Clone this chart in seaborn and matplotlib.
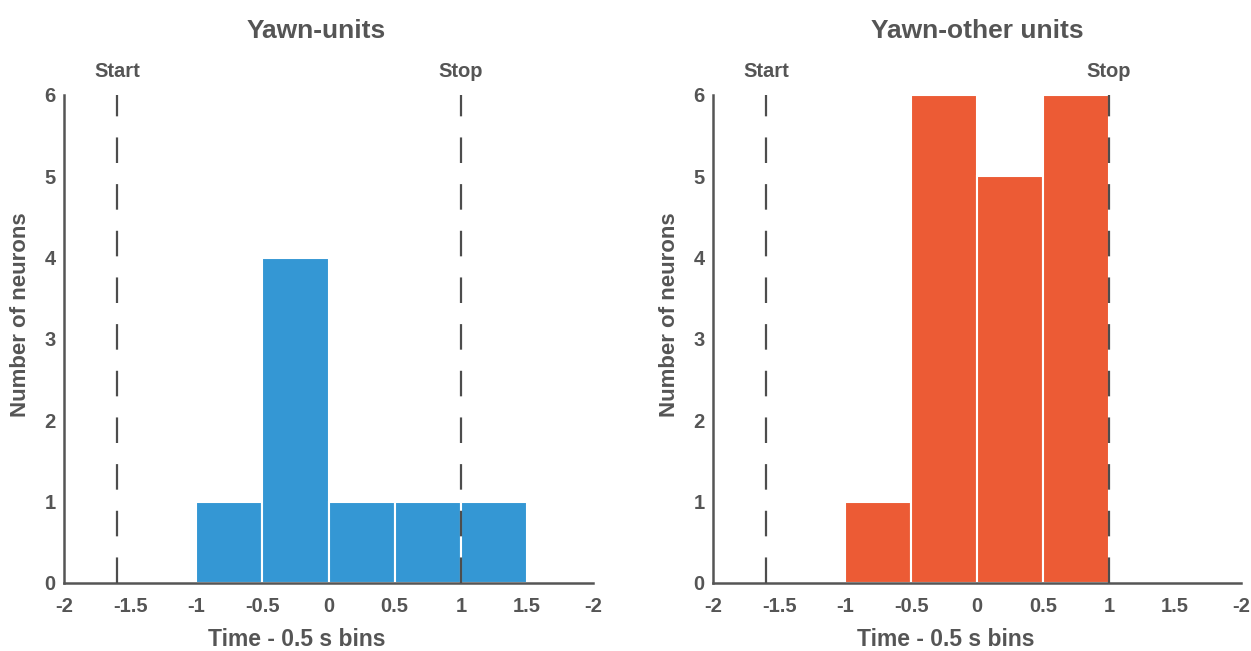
import numpy as np
import pandas as pd
import matplotlib
matplotlib.use("Agg")
import matplotlib.pyplot as plt
import seaborn as sns

# Histogram bins (0.5 s) and neuron counts per bin
bin_edges = [-1.0, -0.5, 0.0, 0.5, 1.0, 1.5]
yawn_units_counts = [1, 4, 1, 1, 1]
yawn_other_counts = [1, 6, 5, 6, 0]

# Event markers
start_time = -1.6
stop_time = 1.0

x_ticks = [-2, -1.5, -1, -0.5, 0, 0.5, 1, 1.5, 2]
x_tick_labels = ["-2", "-1.5", "-1", "-0.5", "0", "0.5", "1", "1.5", "-2"]
y_ticks = [0, 1, 2, 3, 4, 5, 6]

titles = ["Yawn-units", "Yawn-other units"]
title_x = [0.476, 0.5]
colors = ["#3497d4", "#ec5b35"]

sns.set_theme(style="white")
plt.rcParams["font.family"] = ["Liberation Sans", "DejaVu Sans"]
plt.rcParams["font.weight"] = "bold"
text_color = "#555555"

fig = plt.figure(figsize=(12.51, 6.51), dpi=100)
ax_l = fig.add_axes([0.0512, 0.1045, 0.4229, 0.7496])
ax_r = fig.add_axes([0.570, 0.1045, 0.4221, 0.7496])

centers = [(a + b) / 2 for a, b in zip(bin_edges[:-1], bin_edges[1:])]

for ax, counts, title, tx, color in zip(
    [ax_l, ax_r], [yawn_units_counts, yawn_other_counts], titles, title_x, colors
):
    df = pd.DataFrame({"t": centers, "n": counts})
    sns.histplot(
        data=df, x="t", weights="n", bins=bin_edges, ax=ax,
        color=color, alpha=1.0, edgecolor="white", linewidth=1.5, zorder=2,
    )
    for xv, lab in [(start_time, "Start"), (stop_time, "Stop")]:
        ax.plot([xv, xv], [0, 6], color="#4d4d4d", lw=1.6,
                dashes=(11.5, 9.5), zorder=3, clip_on=False)
        ax.text(xv, 6.17, lab, ha="center", va="bottom", fontsize=14.5,
                fontweight="bold", color=text_color)

    ax.set_xlim(-2, 2)
    ax.set_ylim(0, 6)
    ax.set_xticks(x_ticks)
    ax.set_xticklabels(x_tick_labels)
    ax.set_yticks(y_ticks)
    ax.tick_params(axis="both", direction="in", length=6, width=1.6,
                   colors="#555555", labelsize=14.5)
    ax.tick_params(axis="x", pad=10)
    ax.tick_params(axis="y", pad=6)
    for lbl in ax.get_xticklabels() + ax.get_yticklabels():
        lbl.set_fontweight("bold")
        lbl.set_color(text_color)
    for side in ["top", "right"]:
        ax.spines[side].set_visible(False)
    for side in ["left", "bottom"]:
        ax.spines[side].set_color("#555555")
        ax.spines[side].set_linewidth(1.8)
    ax.set_xlabel("Time - 0.5 s bins", fontsize=16.5, fontweight="bold",
                  color=text_color)
    ax.xaxis.set_label_coords(0.44, -0.092)
    ax.set_ylabel("Number of neurons", fontsize=16, fontweight="bold",
                  color=text_color)
    ax.yaxis.set_label_coords(-0.062, 0.55)
    ax.set_title(title, fontsize=19, fontweight="bold", color=text_color,
                 pad=41, x=tx)
    ax.grid(False)

fig.savefig("out.png", dpi=100, facecolor="white")
